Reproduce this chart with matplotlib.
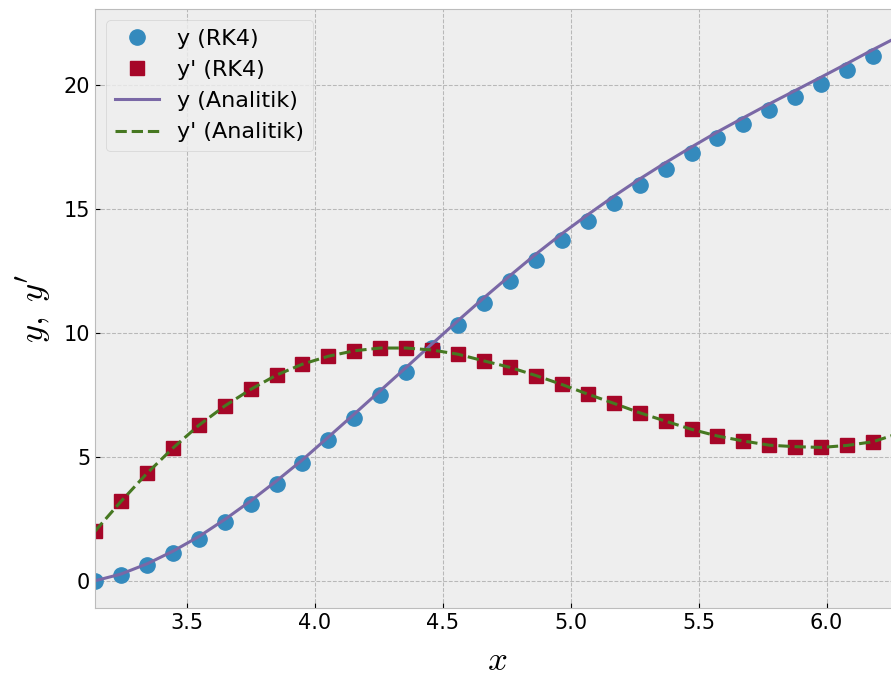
import numpy as np
import matplotlib
matplotlib.use("Agg")
import matplotlib.pyplot as plt

# x grid: pi .. 2pi, 32 points
x = np.linspace(np.pi, 2 * np.pi, 32)

# RK4 points
y_rk4 = [0.00, 0.24, 0.62, 1.13, 1.69, 2.37, 3.11, 3.91, 4.75, 5.66, 6.58,
         7.50, 8.43, 9.38, 10.31, 11.21, 12.09, 12.95, 13.76, 14.52, 15.25,
         15.95, 16.61, 17.24, 17.86, 18.42, 18.98, 19.51, 20.06, 20.60,
         21.18, 21.70]
dy_rk4 = [2.00, 3.20, 4.33, 5.35, 6.27, 7.05, 7.72, 8.30, 8.74, 9.06, 9.28,
          9.39, 9.39, 9.31, 9.14, 8.87, 8.61, 8.28, 7.92, 7.53, 7.16, 6.78,
          6.44, 6.11, 5.84, 5.64, 5.47, 5.41, 5.38, 5.46, 5.61, 5.90]

# analytic curves
y_an = [0.00, 0.27, 0.68, 1.19, 1.78, 2.47, 3.22, 4.03, 4.88, 5.80, 6.73,
        7.67, 8.61, 9.56, 10.50, 11.42, 12.31, 13.18, 14.00, 14.77, 15.51,
        16.21, 16.87, 17.50, 18.11, 18.68, 19.24, 19.78, 20.32, 20.87,
        21.43, 21.97]
dy_an = [2.00, 3.20, 4.33, 5.35, 6.27, 7.05, 7.72, 8.30, 8.74, 9.06, 9.28,
         9.39, 9.39, 9.31, 9.14, 8.87, 8.61, 8.28, 7.92, 7.53, 7.16, 6.78,
         6.44, 6.11, 5.84, 5.64, 5.47, 5.41, 5.38, 5.46, 5.61, 5.95]

plt.style.use("bmh")
plt.rcParams["grid.linewidth"] = 0.75
plt.rcParams["grid.color"] = "#b8b8b8"

fig = plt.figure(figsize=(8.91, 6.76), dpi=100)
ax = fig.add_axes([95 / 891, 68 / 676, 804 / 891, 599 / 676])

ax.plot(x, y_rk4, "o", ms=11, label="y (RK4)")
ax.plot(x, dy_rk4, "s", ms=10.5, label="y' (RK4)")
ax.plot(x, y_an, "-", lw=2.2, label="y (Analitik)")
ax.plot(x, dy_an, "--", lw=2.2, label="y' (Analitik)")

ax.set_xlim(np.pi, 2 * np.pi)
ax.set_xticks([3.5, 4.0, 4.5, 5.0, 5.5, 6.0])
ax.set_yticks([0, 5, 10, 15, 20])
ax.tick_params(labelsize=15)
ax.set_xlabel("$x$", fontsize=25, labelpad=7)
ax.set_ylabel(r"$y,\;y'$", fontsize=25, labelpad=8)
ax.legend(loc="upper left", fontsize=16)

fig.savefig("out.png", dpi=100)
